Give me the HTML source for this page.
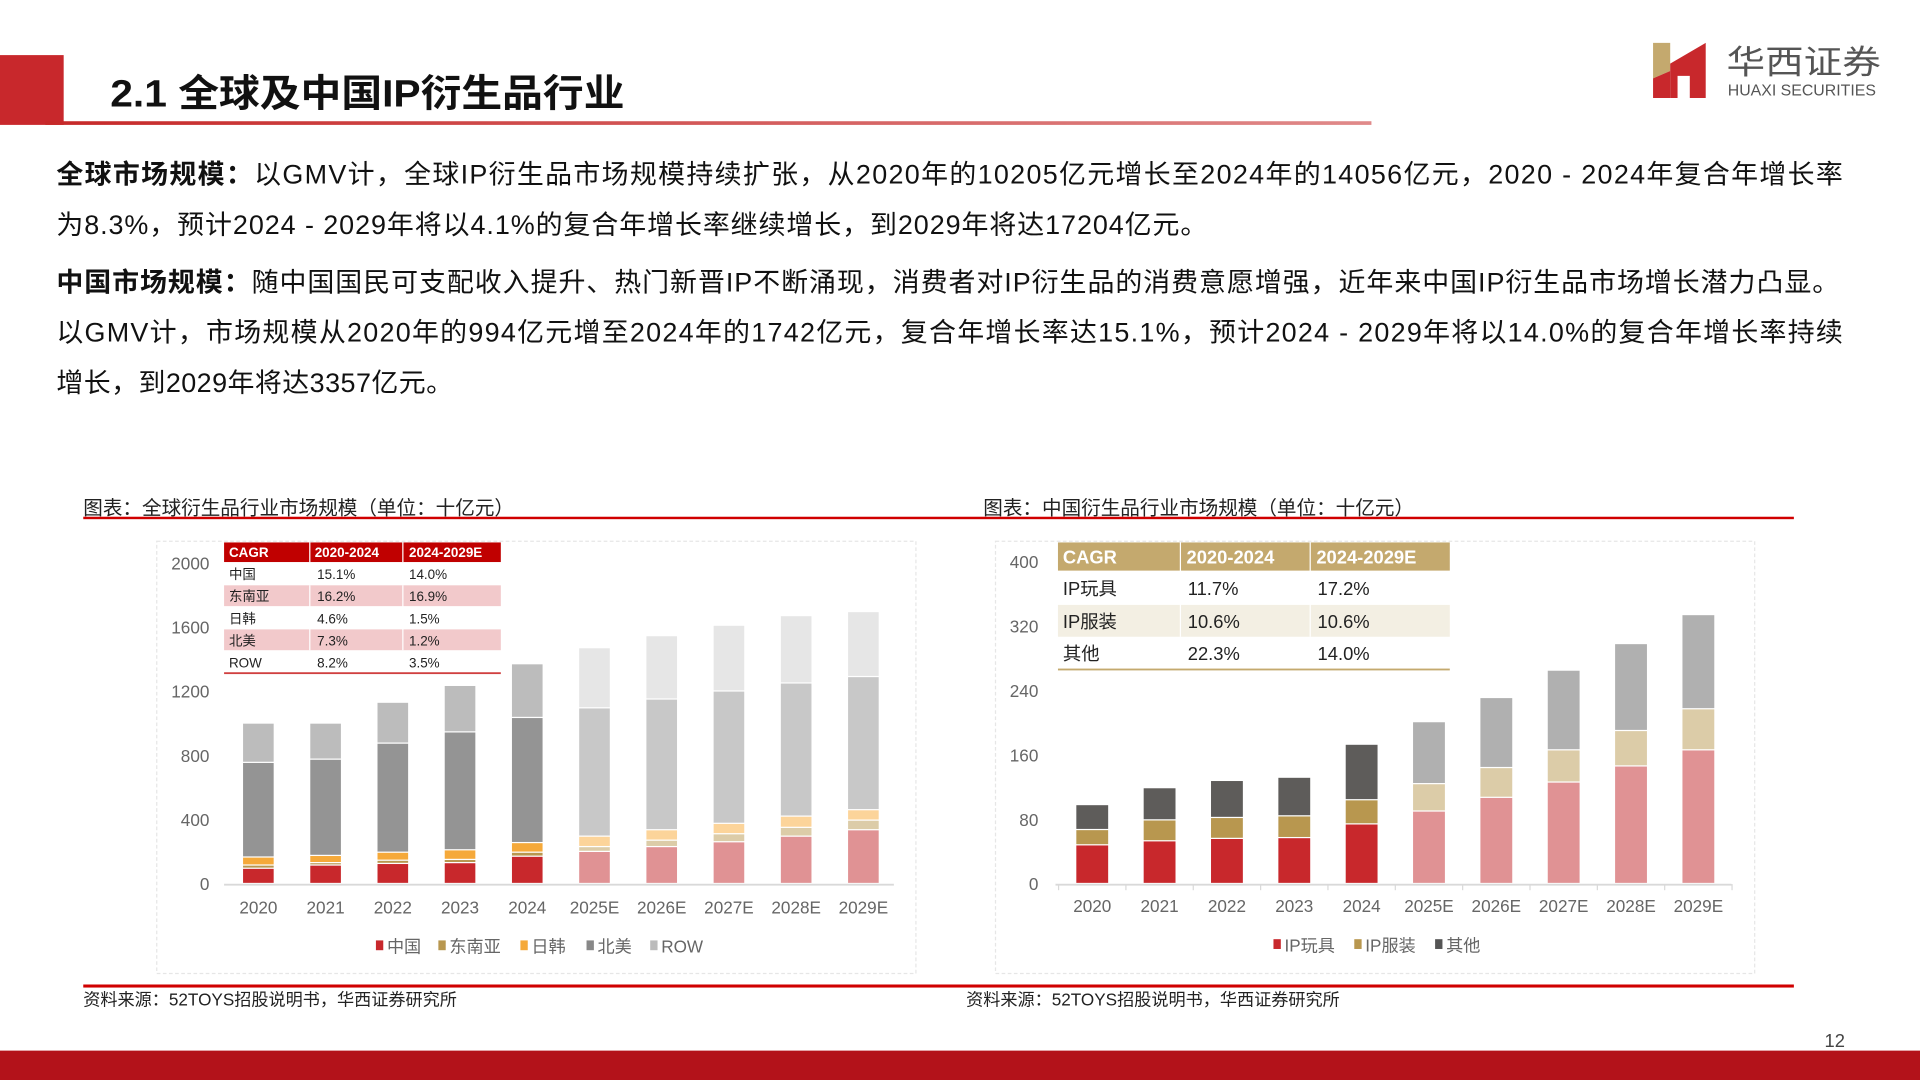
<!DOCTYPE html>
<html><head><meta charset="utf-8"><style>
html,body{margin:0;padding:0;background:#fff;width:1920px;height:1080px;overflow:hidden}
svg{display:block}
text{font-family:"Liberation Sans","Noto Sans CJK SC",sans-serif}
</style></head><body>
<svg id="s" width="1920" height="1080" viewBox="0 0 1568 882" xmlns="http://www.w3.org/2000/svg">
<defs>
<linearGradient id="lg" x1="0" x2="1"><stop offset="0" stop-color="#c62828"/><stop offset="1" stop-color="#e08a8a"/></linearGradient>
</defs>
<rect x="0" y="45" width="52" height="57" fill="#c8282c"/>
<rect x="37" y="99" width="1083" height="3" fill="url(#lg)"/>
<text x="90" y="87" font-size="31" font-weight="bold" fill="#111" textLength="420" lengthAdjust="spacingAndGlyphs">2.1 全球及中国IP衍生品行业</text>
<!-- logo -->
<polygon points="1350,35 1364,35 1364,58 1350,64" fill="#c4a96e"/>
<polygon points="1350,64 1364,58 1364,80 1350,80" fill="#c8282c"/>
<polygon points="1364,52 1393,35 1393,80 1380,80 1380,62 1370,62 1370,80 1364,80" fill="#c8282c"/>
<text x="1410" y="60" font-size="27" fill="#555" font-family="Noto Serif CJK SC,serif" textLength="126" lengthAdjust="spacingAndGlyphs">华西证券</text>
<text x="1411" y="78" font-size="12.5" fill="#555" textLength="121" lengthAdjust="spacingAndGlyphs">HUAXI SECURITIES</text>
<!-- body -->
<g font-size="22" fill="#111">
<text x="46" y="150" textLength="1459" lengthAdjust="spacing"><tspan font-weight="bold">全球市场规模：</tspan>以GMV计，全球IP衍生品市场规模持续扩张，从2020年的10205亿元增长至2024年的14056亿元，2020 - 2024年复合年增长率</text>
<text x="46" y="191" textLength="940" lengthAdjust="spacing">为8.3%，预计2024 - 2029年将以4.1%的复合年增长率继续增长，到2029年将达17204亿元。</text>
<text x="46" y="238" textLength="1456" lengthAdjust="spacing"><tspan font-weight="bold">中国市场规模：</tspan>随中国国民可支配收入提升、热门新晋IP不断涌现，消费者对IP衍生品的消费意愿增强，近年来中国IP衍生品市场增长潜力凸显。</text>
<text x="46" y="279" textLength="1459" lengthAdjust="spacing">以GMV计，市场规模从2020年的994亿元增至2024年的1742亿元，复合年增长率达15.1%，预计2024 - 2029年将以14.0%的复合年增长率持续</text>
<text x="46" y="320" textLength="324" lengthAdjust="spacing">增长，到2029年将达3357亿元。</text>
</g>
<!-- chart titles -->
<text x="68" y="420" font-size="16" fill="#222">图表：全球衍生品行业市场规模（单位：十亿元）</text>
<text x="803" y="420" font-size="16" fill="#222">图表：中国衍生品行业市场规模（单位：十亿元）</text>
<rect x="68" y="422" width="1397" height="2" fill="#d00000"/>
<rect x="68" y="804" width="1397" height="2.5" fill="#d00000"/>
<text x="68" y="821" font-size="14" fill="#222">资料来源：52TOYS招股说明书，华西证券研究所</text>
<text x="789" y="821" font-size="14" fill="#222">资料来源：52TOYS招股说明书，华西证券研究所</text>
<rect x="128" y="442" width="620" height="353" fill="none" stroke="#e6e6e6" stroke-dasharray="3,2"/>
<rect x="813" y="442" width="620" height="353" fill="none" stroke="#e6e6e6" stroke-dasharray="3,2"/>
<g id="c1"></g><g id="c2"></g>
<!-- left table -->
<rect x="183" y="443" width="226" height="16" fill="#c00000"/>
<rect x="183" y="478" width="226" height="17" fill="#f2c9cb"/>
<rect x="183" y="514" width="226" height="17" fill="#f2c9cb"/>
<line x1="253" y1="443" x2="253" y2="459" stroke="#fff"/><line x1="329" y1="443" x2="329" y2="459" stroke="#fff"/>
<line x1="253" y1="478" x2="253" y2="531" stroke="#fff"/><line x1="329" y1="478" x2="329" y2="531" stroke="#fff"/>
<rect x="183" y="549" width="226" height="1.5" fill="#d04040"/>
<g font-size="11" fill="#222">
<text x="187" y="455" fill="#fff" font-weight="bold">CAGR</text><text x="257" y="455" fill="#fff" font-weight="bold">2020-2024</text><text x="334" y="455" fill="#fff" font-weight="bold">2024-2029E</text>
<text x="187" y="473">中国</text><text x="259" y="473">15.1%</text><text x="334" y="473">14.0%</text>
<text x="187" y="491">东南亚</text><text x="259" y="491">16.2%</text><text x="334" y="491">16.9%</text>
<text x="187" y="509">日韩</text><text x="259" y="509">4.6%</text><text x="334" y="509">1.5%</text>
<text x="187" y="527">北美</text><text x="259" y="527">7.3%</text><text x="334" y="527">1.2%</text>
<text x="187" y="545">ROW</text><text x="259" y="545">8.2%</text><text x="334" y="545">3.5%</text>
</g>
<!-- right table -->
<rect x="864" y="443" width="320" height="23" fill="#c4a96e"/>
<rect x="864" y="494" width="320" height="26" fill="#f3efe3"/>
<line x1="964" y1="443" x2="964" y2="520" stroke="#fff"/><line x1="1070" y1="443" x2="1070" y2="520" stroke="#fff"/>
<rect x="864" y="546" width="320" height="1.5" fill="#c4a96e"/>
<g font-size="15" fill="#222">
<text x="868" y="460" fill="#fff" font-weight="bold">CAGR</text><text x="969" y="460" fill="#fff" font-weight="bold">2020-2024</text><text x="1075" y="460" fill="#fff" font-weight="bold">2024-2029E</text>
<text x="868" y="486">IP玩具</text><text x="970" y="486">11.7%</text><text x="1076" y="486">17.2%</text>
<text x="868" y="513">IP服装</text><text x="970" y="513">10.6%</text><text x="1076" y="513">10.6%</text>
<text x="868" y="539">其他</text><text x="970" y="539">22.3%</text><text x="1076" y="539">14.0%</text>
</g>
<!-- legends -->
<g font-size="14" fill="#666">
<rect x="307" y="768" width="6" height="8" fill="#c8282c"/><text x="316" y="778">中国</text>
<rect x="358" y="768" width="6" height="8" fill="#b8974f"/><text x="367" y="778">东南亚</text>
<rect x="425" y="768" width="6" height="8" fill="#f5a93a"/><text x="434" y="778">日韩</text>
<rect x="479" y="768" width="6" height="8" fill="#888"/><text x="488" y="778">北美</text>
<rect x="531" y="768" width="6" height="8" fill="#bbb"/><text x="540" y="778">ROW</text>
<rect x="1040" y="767" width="6" height="8" fill="#c8282c"/><text x="1049" y="777">IP玩具</text>
<rect x="1106" y="767" width="6" height="8" fill="#b8974f"/><text x="1115" y="777">IP服装</text>
<rect x="1172" y="767" width="6" height="8" fill="#555"/><text x="1181" y="777">其他</text>
</g>
<rect x="0" y="858" width="1568" height="24" fill="#b3121a"/>
<text x="1490" y="855" font-size="15" fill="#444">12</text>
</svg>
<script>
var NS="http://www.w3.org/2000/svg";
function el(p,t,a,txt){var e=document.createElementNS(NS,t);for(var k in a)e.setAttribute(k,a[k]);if(txt!=null)e.textContent=txt;p.appendChild(e);return e;}
var cats=["2020","2021","2022","2023","2024","2025E","2026E","2027E","2028E","2029E"];
var g1=document.getElementById("c1");
var d1=[[95,20,50,590,245],[115,15,45,600,225],[125,20,50,680,255],[130,20,60,735,290],[170,25,60,780,335],[200,30,65,800,375],[230,40,65,815,395],[260,50,65,825,410],[295,55,70,830,420],[335,60,65,830,405]];
var ca=["#c8282c","#b8974f","#f5a93a","#949494","#bcbcbc"],cf=["#e09294","#dccca8","#fcd49a","#c8c8c8","#e6e6e6"];
var y0=722,k1=262/2000;
for(var i=0;i<=5;i++){el(g1,"text",{x:171,y:y0-i*400*k1+5,"font-size":14,fill:"#666","text-anchor":"end"},String(i*400));}
el(g1,"line",{x1:183,y1:y0+0.5,x2:730,y2:y0+0.5,stroke:"#d9d9d9","stroke-width":1.5});
for(var i=0;i<10;i++){var cx=211+i*54.9,y=y0,cols=i<5?ca:cf;
 for(var j=0;j<5;j++){var h=d1[i][j]*k1;el(g1,"rect",{x:cx-12.5,y:y-h,width:25,height:Math.max(h-1,0.5),fill:cols[j]});y-=h;}
 el(g1,"text",{x:cx,y:746,"font-size":14,fill:"#666","text-anchor":"middle"},cats[i]);}
var g2=document.getElementById("c2");
var d2=[[48,19,31],[53,26,40],[56,26,46],[57,27,48],[74,30,69],[90,34,77],[107,37,87],[126,40,99],[146,44,108],[166,51,117]];
var ca2=["#c8282c","#b8974f","#5e5c5a"],cf2=["#e09294","#dccca8","#b0b0b0"];
var k2=263/400;
for(var i=0;i<=5;i++){el(g2,"text",{x:848,y:y0-i*80*k2+5,"font-size":14,fill:"#666","text-anchor":"end"},String(i*80));}
el(g2,"line",{x1:862,y1:y0+0.5,x2:1414,y2:y0+0.5,stroke:"#d9d9d9","stroke-width":1.5});
for(var i=0;i<=10;i++){var tx=864.5+i*55;el(g2,"line",{x1:tx,y1:y0,x2:tx,y2:y0+5,stroke:"#d9d9d9"});}
for(var i=0;i<10;i++){var cx=892+i*55,y=y0,cols=i<5?ca2:cf2;
 for(var j=0;j<3;j++){var h=d2[i][j]*k2;el(g2,"rect",{x:cx-13,y:y-h,width:26,height:Math.max(h-1,0.5),fill:cols[j]});y-=h;}
 el(g2,"text",{x:cx,y:745,"font-size":14,fill:"#666","text-anchor":"middle"},cats[i]);}
</script>
</body></html>
